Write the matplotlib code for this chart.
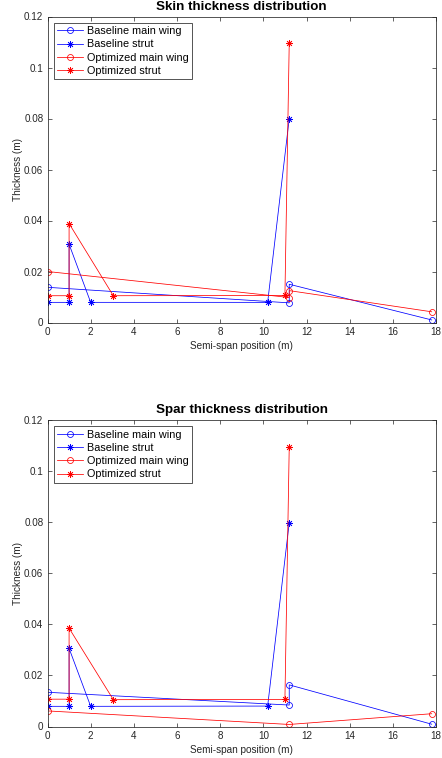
import matplotlib
matplotlib.use("Agg")
import matplotlib.pyplot as plt

plt.rcParams['font.family'] = ['Liberation Sans', 'DejaVu Sans']

# ---------------- data ----------------
# Skin thickness distribution
skin_base_wing_x = [0, 11.2, 11.2, 17.8]
skin_base_wing_y = [0.0138, 0.0077, 0.0150, 0.0010]
skin_base_strut_x = [0, 1.0, 1.0, 2.0, 10.2, 11.2]
skin_base_strut_y = [0.0079, 0.0079, 0.0307, 0.0079, 0.0079, 0.0800]
skin_opt_wing_x = [0, 11.2, 11.2, 17.8]
skin_opt_wing_y = [0.0200, 0.0098, 0.0125, 0.0042]
skin_opt_strut_x = [0, 1.0, 1.0, 3.05, 11.0, 11.2]
skin_opt_strut_y = [0.0105, 0.0105, 0.0388, 0.0105, 0.0106, 0.1097]

# Spar thickness distribution
spar_base_wing_x = [0, 11.2, 11.2, 17.8]
spar_base_wing_y = [0.0134, 0.0084, 0.0163, 0.0009]
spar_base_strut_x = [0, 1.0, 1.0, 2.0, 10.2, 11.2]
spar_base_strut_y = [0.0079, 0.0079, 0.0306, 0.0079, 0.0080, 0.0798]
spar_opt_wing_x = [0, 11.2, 17.8]
spar_opt_wing_y = [0.0061, 0.0008, 0.0050]
spar_opt_strut_x = [0, 1.0, 1.0, 3.05, 11.0, 11.2]
spar_opt_strut_y = [0.0107, 0.0107, 0.0385, 0.0105, 0.0106, 0.1096]

legend_labels = ["Baseline main wing", "Baseline strut",
                 "Optimized main wing", "Optimized strut"]
titles = ["Skin thickness distribution", "Spar thickness distribution"]
xlabel = "Semi-span position (m)"
ylabel = "Thickness (m)"
xticks = [0, 2, 4, 6, 8, 10, 12, 14, 16, 18]
yticks = [0, 0.02, 0.04, 0.06, 0.08, 0.1, 0.12]
ytick_labels = ["0", "0.02", "0.04", "0.06", "0.08", "0.1", "0.12"]

# ---------------- figure ----------------
W, H = 442, 758
fig = plt.figure(figsize=(W / 100, H / 100), dpi=100)

axcol = '#262626'
blue = '#0000ff'
red = '#ff0000'
asterisk = (8, 2, 0)

def px_axes(left, right, top, bottom):
    return fig.add_axes([left / W, 1 - bottom / H, (right - left) / W, (bottom - top) / H])

panels = [
    (px_axes(47.5, 436, 16.5, 322.5), titles[0],
     (skin_base_wing_x, skin_base_wing_y), (skin_base_strut_x, skin_base_strut_y),
     (skin_opt_wing_x, skin_opt_wing_y), (skin_opt_strut_x, skin_opt_strut_y)),
    (px_axes(47.5, 436, 420, 726.5), titles[1],
     (spar_base_wing_x, spar_base_wing_y), (spar_base_strut_x, spar_base_strut_y),
     (spar_opt_wing_x, spar_opt_wing_y), (spar_opt_strut_x, spar_opt_strut_y)),
]

lw = 0.55
ms = 4.3
for ax, title, bw, bs, ow, os_ in panels:
    ax.plot(bw[0], bw[1], color=blue, lw=lw, marker='o', ms=ms, mfc='none', mew=0.55,
            label=legend_labels[0])
    ax.plot(bs[0], bs[1], color=blue, lw=lw, marker=asterisk, ms=ms + 0.6, mew=0.55,
            label=legend_labels[1])
    ax.plot(ow[0], ow[1], color=red, lw=lw, marker='o', ms=ms, mfc='none', mew=0.55,
            label=legend_labels[2])
    ax.plot(os_[0], os_[1], color=red, lw=lw, marker=asterisk, ms=ms + 0.6, mew=0.55,
            label=legend_labels[3])

    ax.set_xlim(0, 18)
    ax.set_ylim(0, 0.12)
    ax.set_xticks(xticks)
    ax.set_xticklabels([str(t) for t in xticks])
    ax.set_yticks(yticks)
    ax.set_yticklabels(ytick_labels)
    ax.tick_params(direction='in', length=3, width=0.5, colors=axcol,
                   labelsize=7.1, top=True, right=True, pad=3,
                   labelcolor=axcol)
    for sp in ax.spines.values():
        sp.set_color(axcol)
        sp.set_linewidth(0.55)
    ax.set_title(title, fontsize=9.6, fontweight='bold', color='black', pad=5)
    ax.set_xlabel(xlabel, fontsize=7.2, color=axcol, labelpad=3)
    ax.set_ylabel(ylabel, fontsize=7.2, color=axcol, labelpad=1)

    leg = ax.legend(loc='upper left', bbox_to_anchor=(0.0167, 0.979),
                    borderaxespad=0, fontsize=7.8, frameon=True, fancybox=False,
                    handlelength=2.4, handletextpad=0.35, labelspacing=0.3,
                    borderpad=0.3, framealpha=1)
    leg.get_frame().set_edgecolor(axcol)
    leg.get_frame().set_linewidth(0.55)
    for t in leg.get_texts():
        t.set_color('black')

fig.savefig('out.png', dpi=100)
